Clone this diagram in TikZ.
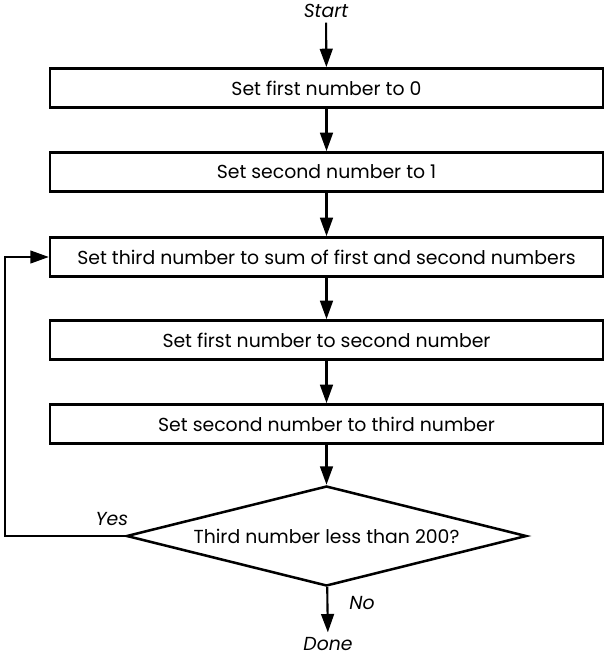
\documentclass[tikz,border=0pt]{standalone}
\usepackage{fontspec}
\setmainfont{Poppins}
\usetikzlibrary{shapes.geometric,arrows.meta}
\begin{document}
\begin{tikzpicture}
	[	x=0.025cm,y=-0.025cm,
	box/.style={rectangle,draw=black,line width=1.8pt,minimum width=13.82cm,minimum height=0.98cm,font=\fontsize{13.4}{15}\selectfont},
	test/.style={diamond,draw=black,line width=1.8pt,minimum width=10cm,minimum height=2.5cm,inner sep=0pt},
	plain/.style={draw=none,fill=none,font=\fontsize{13.4}{15}\selectfont\itshape},
	flow/.style={-{Triangle[length=4.6mm,width=3.2mm]},line width=1.5pt}
	]
	\useasboundingbox (0,0) rectangle (604,656);
	\node[plain] (start) at (326,11){Start};
	\node[box] (first) at (326.5,88){Set first number to 0};
	\node[box] (second) at (326.5,172){Set second number to 1};
	\node[box] (third) at (326.5,257){Set third number to sum of first and second numbers};
	\node[box] (move1) at (326.5,340){Set first number to second number};
	\node[box] (move2) at (326.5,424){Set second number to third number};
	\node[test] (check) at (326.5,536){};
	\node[plain,font=\fontsize{13.4}{15}\selectfont] (question) at (check.center){Third number less than 200?};
	\node[plain] (done) at (328,644){Done};

	\node[plain] (yes) at (112,519){Yes};
	\node[plain] (no) at (362,603){No};

	\coordinate (corner1) at (5,536);
	\coordinate (corner2) at (5,257);

	\draw[flow] (start) -- (first);
	\draw[flow] (first) -- (second);
	\draw[flow] (second) -- (third);
	\draw[flow] (third) -- (move1);
	\draw[flow] (move1) -- (move2);
	\draw[flow] (move2) -- (check);
	\draw[flow] (check) -- (done);
	\draw[flow,line width=1.2pt] (check.west) -- (corner1) -- (corner2) -- (third.west);
\end{tikzpicture}
\end{document}
